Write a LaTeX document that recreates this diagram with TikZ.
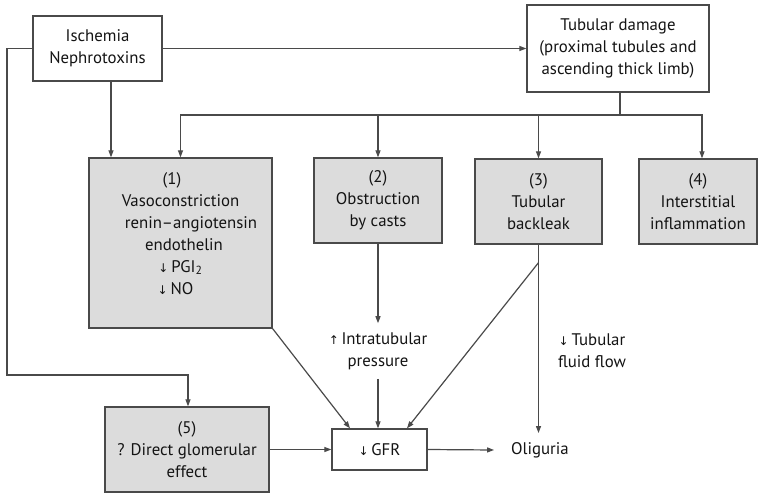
\documentclass[tikz,border=0pt]{standalone}
\usepackage{fontspec}
\setmainfont{PT Sans}
\newfontfamily\arw{DejaVu Sans}
\usetikzlibrary{arrows.meta,calc}
\definecolor{boxgray}{HTML}{DCDCDC}
\definecolor{ln}{HTML}{4A4A4A}
\newcommand{\dnarr}{{\arw\fontsize{12}{12}\selectfont ↓}\,}
\newcommand{\uparr}{{\arw\fontsize{12}{12}\selectfont ↑}\,}
\begin{document}
\begin{tikzpicture}[x=1pt,y=-1pt,
  every node/.style={font=\fontsize{16.8}{22}\selectfont, text=black!92},
  box/.style={draw=ln, line width=1.3pt, fill=boxgray, align=center, inner sep=0},
  wbox/.style={box, fill=white},
  lbl/.style={align=center, inner xsep=0, inner ysep=9},
  conn/.style={draw=ln, line width=1.2pt},
  arr/.style={conn, -{Triangle[length=7pt,width=5pt]}}]
\useasboundingbox (0,0) rectangle (759,494);
\fill[white] (0,0) rectangle (759,494);

\node[wbox, minimum width=129, minimum height=65] (isch) at (97.5,48.5) {Ischemia\\Nephrotoxins};
\node[wbox, minimum width=182, minimum height=87] (tub) at (618,48.5) {Tubular damage\\(proximal tubules and\\ascending thick limb)};

\node[box, minimum width=183, minimum height=170] (b1) at (180.5,243) {};
\node[align=center, inner sep=0] (b1t) at (180.5,233.5) {(1)\hspace*{17pt}\\Vasoconstriction\hspace*{17pt}\\\hspace*{21pt}renin–angiotensin\\\hspace*{7pt}endothelin\\\dnarr PGI\textsubscript{2}\hspace*{5pt}\\\dnarr NO\hspace*{10pt}};
\node[box, minimum width=128, minimum height=85] (b2) at (378,200.5) {(2)\\Obstruction\\by casts};
\node[box, minimum width=127, minimum height=85] (b3) at (538.5,201.5) {(3)\\Tubular\\backleak};
\node[box, minimum width=118, minimum height=85] (b4) at (698,201.5) {(4)\\Interstitial\\inflammation};
\node[box, minimum width=164, minimum height=85] (b5) at (187,449.5) {(5)\\? Direct glomerular\\effect};
\node[wbox, minimum width=95, minimum height=41] (gfr) at (379.5,449.5) {\dnarr GFR};

\node[lbl] (intra) at (378,351) {\uparr Intratubular\\pressure};
\node[lbl] (tff) at (592,351) {\dnarr Tubular\\fluid flow};
\node[inner xsep=17, inner ysep=9] (olig) at (540,450) {Oliguria};

% connectors
\coordinate (lc) at (7,375);
\draw[arr] (isch.west) -| (lc) -| ([xshift=1]b5.north);
\draw[arr] (isch.east) -- (tub.west);
\draw[arr] ([xshift=13.5]isch.south) -- ([xshift=13.5]isch.south |- b1.north);

\coordinate (bus) at (620,115);
\draw[conn] (bus |- tub.south) -- (bus);
\draw[arr] (bus) -| (b1.north);
\draw[arr] (bus) -| (b2.north);
\draw[arr] (bus) -| (b3.north);
\draw[arr] (bus) -| ([xshift=4]b4.north);

\draw[arr] (b2.south) -- (intra.north);
\draw[arr] (intra.south) -- (intra.south |- gfr.north);
\draw[arr] (b1.south east) -- ([xshift=-29.5]gfr.north);
\coordinate (split) at ($(b3.south)+(0,18)$);
\draw[arr] (split) -- ([xshift=27.5]gfr.north);
\draw[arr] (b3.south) -- (b3.south |- olig.north);
\draw[arr] (b5.east) -- (gfr.west);
\draw[arr] (gfr.east) -- (olig.west);
\end{tikzpicture}
\end{document}
